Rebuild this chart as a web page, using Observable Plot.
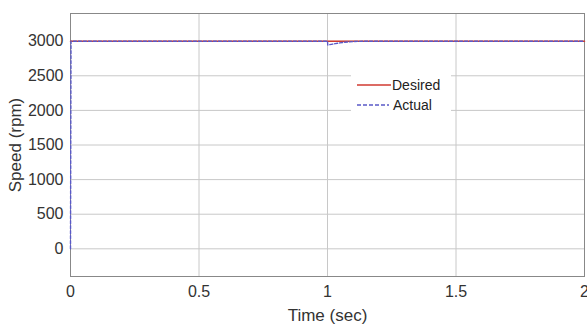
<!DOCTYPE html>
<html><head><meta charset="utf-8">
<script src="https://cdn.jsdelivr.net/npm/d3@7"></script>
<script src="https://cdn.jsdelivr.net/npm/@observablehq/plot@0.6"></script>
<style>
body{margin:0;background:#fff;font-family:"Liberation Sans",Arial,sans-serif;}
#wrap{position:relative;width:587px;height:327px;}
#legend{position:absolute;left:351px;top:74px;width:100px;height:40px;background:#fff;font-size:14px;color:#222;}
#legend .row{position:absolute;left:0;height:16px;display:flex;align-items:center;}
</style></head>
<body><div id="wrap"><div id="chart"></div>
<div id="legend">
 <div class="row" style="top:3px"><svg width="41" height="10"><line x1="6" x2="40" y1="5" y2="5" stroke="#d03a30" stroke-width="1.5"/></svg><span>Desired</span></div>
 <div class="row" style="top:23px"><svg width="42" height="10"><line x1="6" x2="38" y1="5" y2="5" stroke="#5a5ac8" stroke-width="1.3" stroke-dasharray="4,2"/></svg><span>Actual</span></div>
</div></div>
<script>
const desiredT = [0, 2];
const desiredV = [3000, 3000];
const actualT = [0, 0.002, 1.0, 1.001, 1.03, 1.06, 1.1, 1.15, 2];
const actualV = [0, 3000, 3000, 2945, 2965, 2982, 2995, 3000, 3000];
const xTicks = [0, 0.5, 1, 1.5, 2];
const yTicks = [0, 500, 1000, 1500, 2000, 2500, 3000];

const desired = desiredT.map((t,i)=>({t, v:desiredV[i]}));
const actual = actualT.map((t,i)=>({t, v:actualV[i]}));

const chart = Plot.plot({
  width: 587, height: 327,
  marginLeft: 70, marginRight: 3, marginTop: 13, marginBottom: 51,
  style: {fontFamily: '"Liberation Sans", Arial, sans-serif', color: "#333", background: "#fff"},
  x: {domain: [0, 2]},
  y: {domain: [-400, 3400]},
  marks: [
    Plot.gridX(xTicks, {stroke: "#c8c8c8", strokeOpacity: 1}),
    Plot.gridY(yTicks, {stroke: "#c8c8c8", strokeOpacity: 1}),
    Plot.frame({stroke: "#888"}),
    Plot.line(desired, {x: "t", y: "v", stroke: "#d03a30", strokeWidth: 1.5}),
    Plot.line(actual, {x: "t", y: "v", stroke: "#5a5ac8", strokeWidth: 1.4, strokeDasharray: "3,2"}),
    Plot.axisX({ticks: xTicks, tickFormat: d => String(d), tickSize: 0, tickPadding: 9, label: "Time (sec)", labelAnchor: "center", labelOffset: 44, labelArrow: "none"}),
    Plot.axisY({ticks: yTicks, tickFormat: d => String(d), tickSize: 0, tickPadding: 7, label: "Speed (rpm)", labelAnchor: "center", labelOffset: 62, labelArrow: "none"})
  ]
});
const svg = d3.select(chart);
svg.selectAll('g[aria-label$="tick label"]').attr("font-size", 16).style("font-size", "16px");
svg.selectAll('g[aria-label$="label"]:not([aria-label$="tick label"])').attr("font-size", 17).style("font-size", "17px");
document.getElementById("chart").appendChild(chart);
</script></body></html>
